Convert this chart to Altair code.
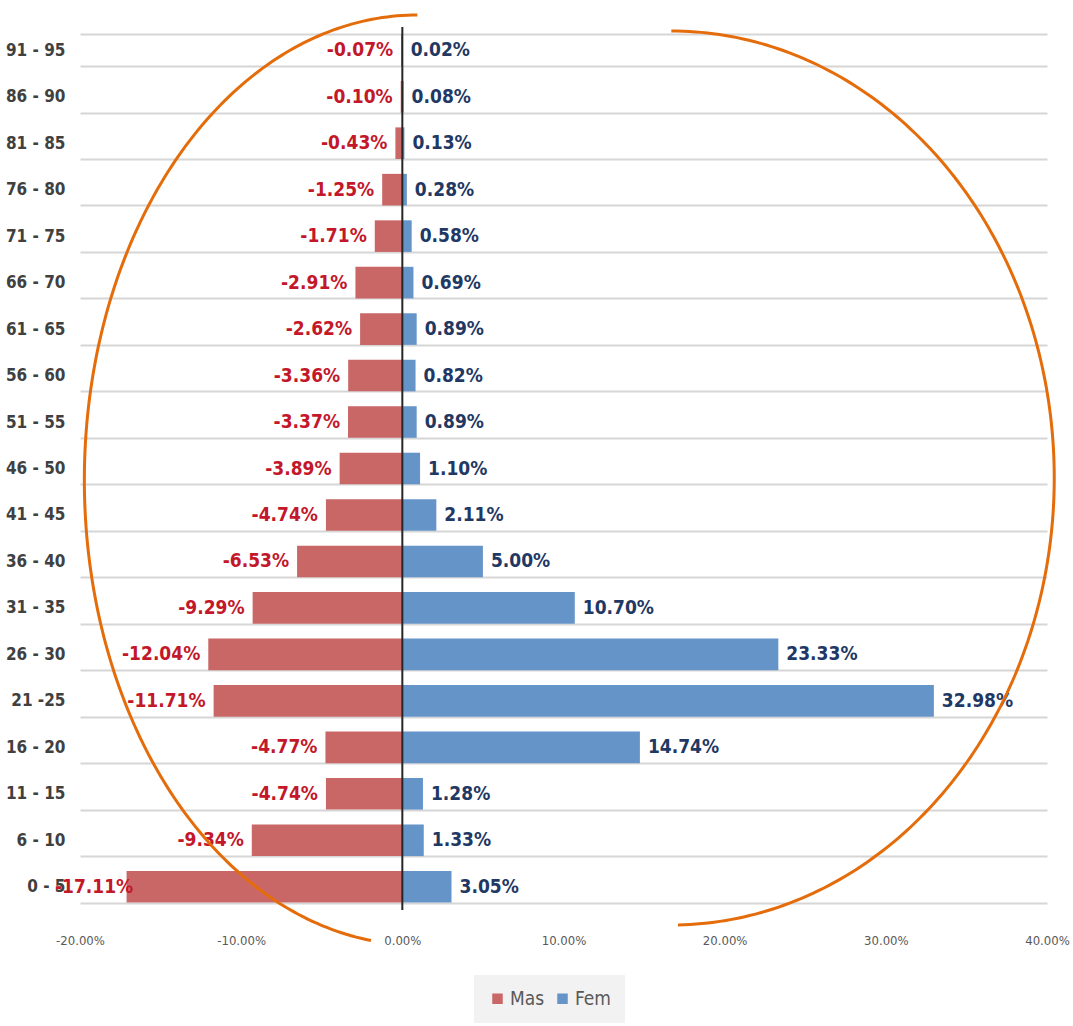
import altair as alt
import pandas as pd
import numpy as np

# ---- data ----
ages = ["91 - 95", "86 - 90", "81 - 85", "76 - 80", "71 - 75", "66 - 70", "61 - 65",
        "56 - 60", "51 - 55", "46 - 50", "41 - 45", "36 - 40", "31 - 35", "26 - 30",
        "21 -25", "16 - 20", "11 - 15", "6 - 10", "0 - 5"]
mas = [-0.07, -0.10, -0.43, -1.25, -1.71, -2.91, -2.62, -3.36, -3.37, -3.89,
       -4.74, -6.53, -9.29, -12.04, -11.71, -4.77, -4.74, -9.34, -17.11]
fem = [0.02, 0.08, 0.13, 0.28, 0.58, 0.69, 0.89, 0.82, 0.89, 1.10,
       2.11, 5.00, 10.70, 23.33, 32.98, 14.74, 1.28, 1.33, 3.05]
series = ["Mas", "Fem"]
x_ticks = [-20, -10, 0, 10, 20, 30, 40]

# ---- styling ----
W, H = 967, 883
RED_BAR, BLUE_BAR = "#c96666", "#6594c9"
RED_TXT, BLUE_TXT = "#c3172a", "#1f3864"
ORANGE = "#e46c0a"
NARROW = "'DejaVu Sans Condensed', 'Liberation Sans Narrow', sans-serif"
PCT = "(datum.value < 0 ? '-' : '') + format(abs(datum.value), '.2f') + '%'"

rows = []
for a, m, f in zip(ages, mas, fem):
    rows.append({"age": a, "sex": "Mas", "value": m})
    rows.append({"age": a, "sex": "Fem", "value": f})
df = pd.DataFrame(rows)

# ---- orange annotation arcs (ellipse params: x in %, y in plot px from top) ----
arcs = [
    {"name": "left", "cx": 0.93, "rx": 20.66, "cy": 453, "ry": 465, "t0": 90, "t1": 262},
    {"name": "right", "cx": 16.69, "rx": 23.76, "cy": 451, "ry": 447, "t0": 90, "t1": -89},
]
arc_rows = []
for a in arcs:
    th = np.radians(np.linspace(a["t0"], a["t1"], 200))
    for i, t in enumerate(th):
        arc_rows.append({"arc": a["name"], "i": i,
                         "ax": a["cx"] + a["rx"] * np.cos(t),
                         "ay": a["cy"] - a["ry"] * np.sin(t)})
arc_df = pd.DataFrame(arc_rows)

xscale = alt.Scale(domain=[-20, 40], nice=False, zero=False)
yscale = alt.Scale(domain=ages, paddingInner=0.32, paddingOuter=0.16)

y_enc = alt.Y("age:N", sort=ages, scale=yscale,
              axis=alt.Axis(title=None, domain=False, ticks=False, grid=True,
                            tickBand="extent", gridColor="#d6d6d6", gridWidth=2,
                            labelFont=NARROW, labelFontSize=17, labelFontWeight="bold",
                            labelColor="#404040", labelPadding=15, labelAlign="right"))
y_plain = alt.Y("age:N", sort=ages, scale=yscale, axis=None)
x_enc = alt.X("value:Q", scale=xscale,
              axis=alt.Axis(title=None, values=x_ticks, domain=False, ticks=False, grid=False,
                            labelExpr=PCT,
                            labelFont=NARROW, labelFontSize=13, labelColor="#595959",
                            labelPadding=24, labelFlush=False))

bars = alt.Chart(df).mark_bar().encode(
    x=x_enc, y=y_enc,
    color=alt.Color("sex:N", scale=alt.Scale(domain=series, range=[RED_BAR, BLUE_BAR]),
                    legend=alt.Legend(title=None, orient="none", legendX=394, legendY=948,
                                      direction="horizontal", fillColor="#f2f2f2",
                                      padding=14, symbolType="square", symbolSize=110,
                                      symbolStrokeWidth=0, labelFont=NARROW,
                                      labelFontSize=19, labelColor="#595959",
                                      labelOffset=3, columnPadding=8)),
)

zero_rule = alt.Chart(pd.DataFrame({"v": [0]})).mark_rule(color="#262626", strokeWidth=2).encode(
    x=alt.X("v:Q", scale=xscale)
)

mas_text = alt.Chart(df).transform_filter("datum.sex == 'Mas'").transform_calculate(
    lbl=PCT,
    lx="max(datum.value, -16.2)",
).mark_text(align="right", baseline="middle", dx=-8, font=NARROW, fontSize=19,
            fontWeight="bold", color=RED_TXT).encode(
    x=alt.X("lx:Q", scale=xscale), y=y_plain, text="lbl:N"
)

fem_text = alt.Chart(df).transform_filter("datum.sex == 'Fem'").transform_calculate(
    lbl=PCT
).mark_text(align="left", baseline="middle", dx=8, font=NARROW, fontSize=19,
            fontWeight="bold", color=BLUE_TXT).encode(
    x=alt.X("value:Q", scale=xscale), y=y_plain, text="lbl:N"
)

ellipse = alt.Chart(arc_df).mark_line(color=ORANGE, strokeWidth=3, clip=False).encode(
    x=alt.X("ax:Q", scale=xscale),
    y=alt.Y("ay:Q", scale=alt.Scale(domain=[0, H], reverse=True, nice=False, zero=False), axis=None),
    detail="arc:N",
    order="i:Q",
)

chart = alt.layer(bars, zero_rule, mas_text, fem_text, ellipse).resolve_scale(
    y="independent"
).properties(
    width=W, height=H,
    autosize=alt.AutoSizeParams(type="none"),
    padding={"left": 80, "top": 27, "right": 26, "bottom": 116},
    background="white",
).configure_view(stroke=None)

chart.save("out.html", embed_options={"renderer": "svg", "actions": False})
